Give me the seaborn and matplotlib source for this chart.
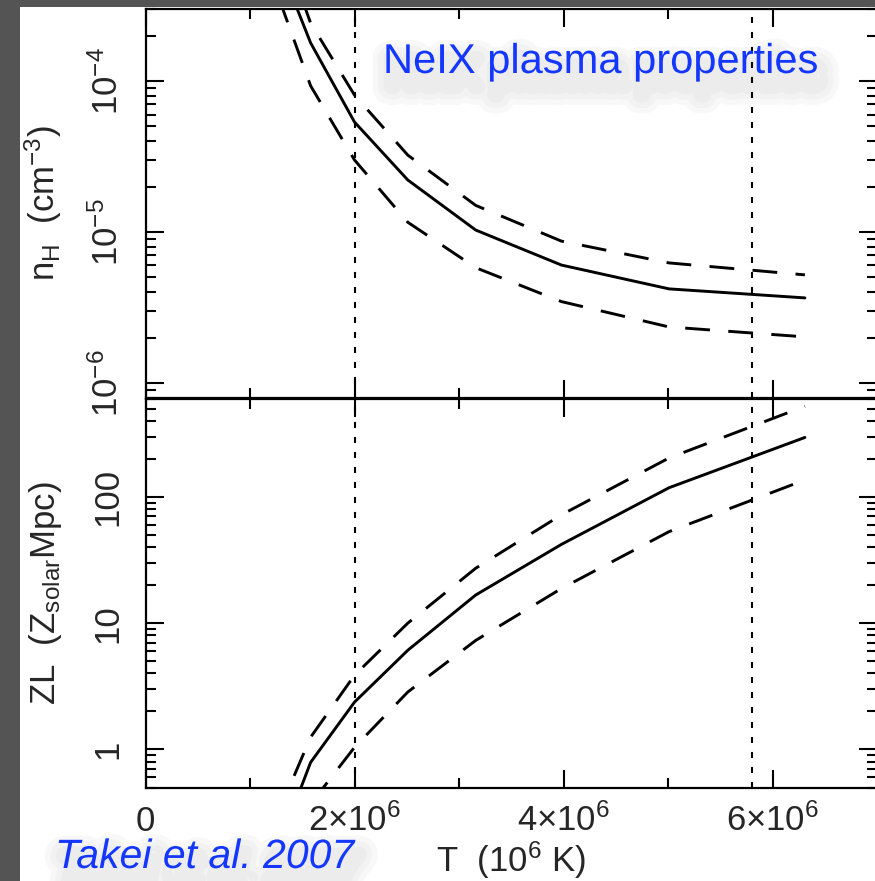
import numpy as np
import pandas as pd
import matplotlib
matplotlib.use("Agg")
import matplotlib.pyplot as plt
import matplotlib.patheffects as pe
from matplotlib.patches import Rectangle
from matplotlib.ticker import FixedLocator, LogLocator, NullFormatter, MultipleLocator
import seaborn as sns

# ---------------- data ----------------
temperature = [1.26e6, 1.58e6, 2.00e6, 2.51e6, 3.16e6, 3.98e6, 5.01e6, 6.31e6]

nh_best = [6.5e-4, 1.79e-4, 5.35e-5, 2.21e-5, 1.03e-5, 6.04e-6, 4.2e-6, 3.66e-6]
nh_upper = [1.0e-3, 2.42e-4, 8.07e-5, 3.23e-5, 1.5e-5, 8.7e-6, 6.24e-6, 5.2e-6]
nh_lower = [3.8e-4, 9.3e-5, 3.0e-5, 1.16e-5, 5.8e-6, 3.46e-6, 2.35e-6, 2.02e-6]

zl_best = [0.16, 0.79, 2.37, 6.1, 16.7, 42.0, 118.0, 295.0]
zl_upper = [0.30, 1.25, 3.87, 10.0, 27.2, 72.0, 203.0, 521.0]
zl_lower = [0.08, 0.37, 1.04, 2.85, 7.3, 18.8, 53.0, 136.0]

marker_temperatures = [2.0e6, 5.8e6]

x_tick_values = [0, 2e6, 4e6, 6e6]
x_tick_labels = ["0", r"$2{\times}10^{6}$", r"$4{\times}10^{6}$", r"$6{\times}10^{6}$"]
nh_tick_values = [1e-6, 1e-5, 1e-4]
nh_tick_labels = [r"$10^{-6}$", r"$10^{-5}$", r"$10^{-4}$"]
zl_tick_values = [1, 10, 100]
zl_tick_labels = ["1", "10", "100"]

title_text = "NeIX plasma properties"
credit_text = "Takei et al. 2007"
x_label = r"T  (10$^{6}$ K)"
nh_label = r"$n_{H}\ \ (cm^{-3})$"
zl_label = r"$ZL\ \ (Z_{solar}Mpc)$"

df_nh = pd.DataFrame({"T": temperature, "best": nh_best, "upper": nh_upper, "lower": nh_lower})
df_zl = pd.DataFrame({"T": temperature, "best": zl_best, "upper": zl_upper, "lower": zl_lower})

# ---------------- style ----------------
sns.set_style("ticks")
plt.rcParams["font.family"] = ["Liberation Sans", "DejaVu Sans"]
plt.rcParams["mathtext.fontset"] = "custom"
plt.rcParams["mathtext.rm"] = "Liberation Sans"
plt.rcParams["mathtext.it"] = "Liberation Sans:italic"
plt.rcParams["mathtext.bf"] = "Liberation Sans:bold"
plt.rcParams["mathtext.default"] = "regular"

W, H = 875, 881
fig = plt.figure(figsize=(W / 100, H / 100), dpi=100, facecolor="#545454")
fig.add_artist(Rectangle((20 / W, 0), 1, (H - 7) / H, transform=fig.transFigure,
                         facecolor="white", edgecolor="none", zorder=-5))

left_px, right_px = 145.5, 877.0
ax1 = fig.add_axes([left_px / W, 1 - 397.6 / H, (right_px - left_px) / W, (397.6 - 9) / H])
ax2 = fig.add_axes([left_px / W, 1 - 787.5 / H, (right_px - left_px) / W, (787.5 - 398.5) / H])

BLUE = "#1437ff"
LABEL_FS = 25
dash_style = (0, (8.5, 6.3))
dot_style = (0, (2.9, 4.3))

for ax, df in ((ax1, df_nh), (ax2, df_zl)):
    ax.set_facecolor("white")
    ax.set_yscale("log")
    sns.lineplot(data=df, x="T", y="best", ax=ax, color="black", linewidth=2.1)
    sns.lineplot(data=df, x="T", y="upper", ax=ax, color="black", linewidth=2.1, linestyle=dash_style)
    sns.lineplot(data=df, x="T", y="lower", ax=ax, color="black", linewidth=2.1, linestyle=dash_style)
    for m in marker_temperatures:
        ax.axvline(m, color="black", linewidth=1.5, linestyle=dot_style)
    ax.set_xlim(0, 7e6)
    ax.xaxis.set_major_locator(FixedLocator(x_tick_values))
    ax.xaxis.set_minor_locator(MultipleLocator(1e6))
    ax.yaxis.set_minor_locator(LogLocator(base=10, subs=np.arange(2, 10)))
    ax.yaxis.set_minor_formatter(NullFormatter())
    ax.tick_params(which="both", direction="in", top=True, right=True, width=1.5, color="black")
    ax.tick_params(which="major", length=13)
    ax.tick_params(which="minor", length=7)
    ax.tick_params(axis="y", which="major", labelrotation=90, pad=15, labelsize=LABEL_FS)
    for s in ax.spines.values():
        s.set_linewidth(1.6)
        s.set_color("black")
    ax.set_xlabel("")
    ax.set_ylabel("")

ax1.set_ylim(8e-7, 3e-4)
ax1.set_yticks(nh_tick_values, nh_tick_labels)
ax1.tick_params(axis="x", labelbottom=False)

ax2.set_ylim(0.5, 600)
ax2.set_yticks(zl_tick_values, zl_tick_labels)
ax2.set_xticks(x_tick_values, x_tick_labels, va="baseline", fontsize=LABEL_FS)
ax2.tick_params(axis="x", which="major", pad=31)

for lab in ax1.get_yticklabels() + ax2.get_yticklabels():
    lab.set_va("center")

ax1.set_ylabel(nh_label, fontsize=LABEL_FS, va="baseline")
ax2.set_ylabel(zl_label, fontsize=LABEL_FS, va="baseline")
ax1.yaxis.set_label_coords((55 - left_px) / (right_px - left_px), 0.5)
ax2.yaxis.set_label_coords((55 - left_px) / (right_px - left_px), 0.5)

ax2.set_xlabel(x_label, fontsize=LABEL_FS, va="baseline")
ax2.xaxis.set_label_coords(0.5, (787.5 - 872) / (787.5 - 398.5))

shadow = [pe.PathPatchEffect(offset=(3, -10), edgecolor="#505050", facecolor="none",
                             linewidth=lw, alpha=0.035, joinstyle="round", capstyle="round")
          for lw in (26, 18, 10)] + [pe.Normal()]

fig.text(383 / W, 1 - 73 / H, title_text, color=BLUE, fontsize=30,
         ha="left", va="baseline", path_effects=shadow)
fig.text(55 / W, 1 - 868 / H, credit_text, color=BLUE, fontsize=29.5, style="italic",
         ha="left", va="baseline", path_effects=shadow)

fig.savefig("out.png", dpi=100, facecolor=fig.get_facecolor())
